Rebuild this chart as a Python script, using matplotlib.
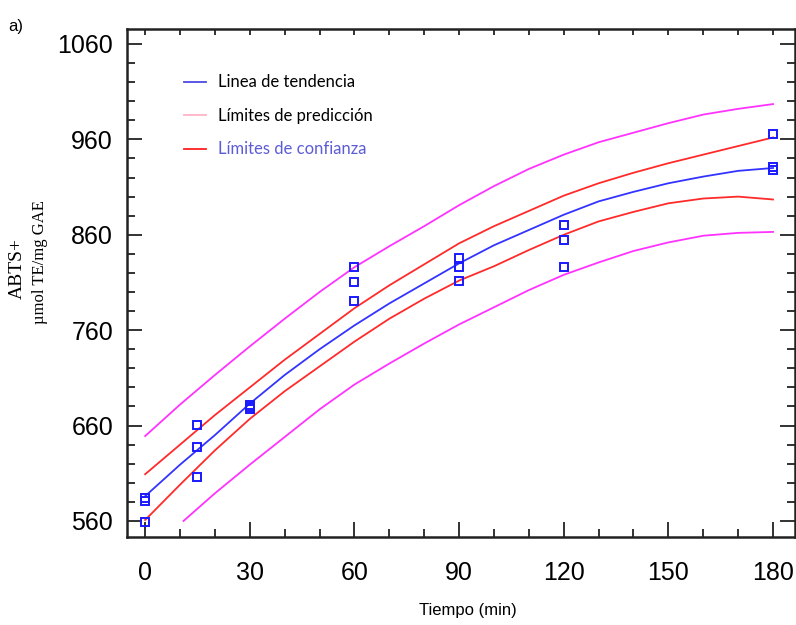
import numpy as np
import matplotlib
matplotlib.use("Agg")
import matplotlib.pyplot as plt

# tiempo (min) for the fitted curves
t_fit = [0, 10, 20, 30, 40, 50, 60, 70, 80, 90, 100, 110, 120, 130, 140, 150, 160, 170, 180]
trend = [586, 619, 650, 683, 713, 740, 765, 788, 809, 830, 849, 865, 881, 895, 905, 914, 921, 927, 930]
conf_up = [609, 640, 671, 700, 729, 756, 783, 807, 829, 851, 869, 885, 901, 914, 925, 935, 944, 953, 962]
conf_lo = [561, 598, 634, 667, 696, 722, 748, 772, 793, 812, 827, 844, 860, 874, 884, 893, 898, 900, 897]
pred_up = [649, 682, 713, 743, 772, 800, 826, 848, 869, 891, 911, 929, 944, 957, 967, 977, 986, 992, 997]
t_pred_lo = [11, 20, 30, 40, 50, 60, 70, 80, 90, 100, 110, 120, 130, 140, 150, 160, 170, 180]
pred_lo = [560, 589, 619, 648, 677, 703, 725, 746, 766, 784, 802, 818, 831, 843, 852, 859, 862, 863]

# experimental points
t_obs = [0, 0, 0, 15, 15, 15, 30, 30, 30, 60, 60, 60, 90, 90, 90, 120, 120, 120, 180, 180, 180]
abts_obs = [584, 581, 559, 661, 638, 606, 682, 679, 677, 826, 810, 791, 836, 826, 812, 870, 855, 826, 966, 931, 928]

sans = ["Liberation Sans", "DejaVu Sans"]

fig = plt.figure(figsize=(7.96, 6.25), dpi=100)
ax = fig.add_axes([127 / 796, 1 - 537 / 625, 668 / 796, 508 / 625])

ax.plot(t_fit, pred_up, color="#ff33ff", lw=1.3)
ax.plot(t_pred_lo, pred_lo, color="#ff33ff", lw=1.3)
ax.plot(t_fit, conf_up, color="#ff2a2a", lw=1.3)
ax.plot(t_fit, conf_lo, color="#ff2a2a", lw=1.3)
ax.plot(t_fit, trend, color="#3333ff", lw=1.3)
ax.plot(t_obs, abts_obs, ls="none", marker="s", ms=5.5, mfc="none",
        mec="#1a1aff", mew=1.4)

# legend (proxy lines)
h1, = ax.plot([], [], color="#4a4ae0", lw=1.3)
h2, = ax.plot([], [], color="#ffb3c6", lw=1.3)
h3, = ax.plot([], [], color="#ff2020", lw=1.3)
leg = ax.legend([h1, h2, h3],
                ["Linea de tendencia", "Límites de predicción", "Límites de confianza"],
                loc="upper left", bbox_to_anchor=(176 / 796, 1 - 66 / 625),
                bbox_transform=fig.transFigure, frameon=False, borderpad=0,
                handlelength=1.3, handletextpad=0.75, labelspacing=1.05,
                prop={"family": "Lato", "size": 12})
leg.get_texts()[2].set_color("#5c5cd6")

ax.set_xlim(-5.2, 186.3)
ax.set_ylim(543.2, 1075.7)
ax.set_xticks([0, 30, 60, 90, 120, 150, 180])
ax.set_xticks(np.arange(0, 181, 10), minor=True)
ax.set_yticks([560, 660, 760, 860, 960, 1060])
ax.set_yticks(np.arange(560, 1061, 20), minor=True)

ax.tick_params(which="both", direction="in", left=True, right=True,
               bottom=True, top=False, color="#222222", width=1.3)
ax.tick_params(which="major", length=11)
ax.tick_params(which="minor", length=6)
ax.tick_params(axis="y", pad=10)
ax.tick_params(axis="x", pad=17)
for lab in ax.get_xticklabels() + ax.get_yticklabels():
    lab.set_family(sans)
    lab.set_fontsize(18)

top = ax.secondary_xaxis("top")
top.set_xticks(np.arange(0, 181, 10))
top.tick_params(direction="in", length=4, width=1.3, color="#222222", labeltop=False)
top.spines["top"].set_visible(False)

for s in ax.spines.values():
    s.set_linewidth(1.8)
    s.set_color("#222222")

fig.text(468 / 796, 1 - 610 / 625, "Tiempo (min)", ha="center", va="center",
         family=sans, fontsize=12)
fig.text(17 / 796, 1 - 268 / 625, "ABTS+", rotation=90, ha="center", va="center",
         family="Liberation Serif", fontsize=14)
fig.text(40 / 796, 1 - 262 / 625, "µmol TE/mg GAE", rotation=90, ha="center",
         va="center", family="Liberation Serif", fontsize=12)
fig.text(8 / 796, 1 - 26 / 625, "a)", ha="left", va="center",
         family=sans, fontsize=12)

fig.savefig("out.png", dpi=100)
